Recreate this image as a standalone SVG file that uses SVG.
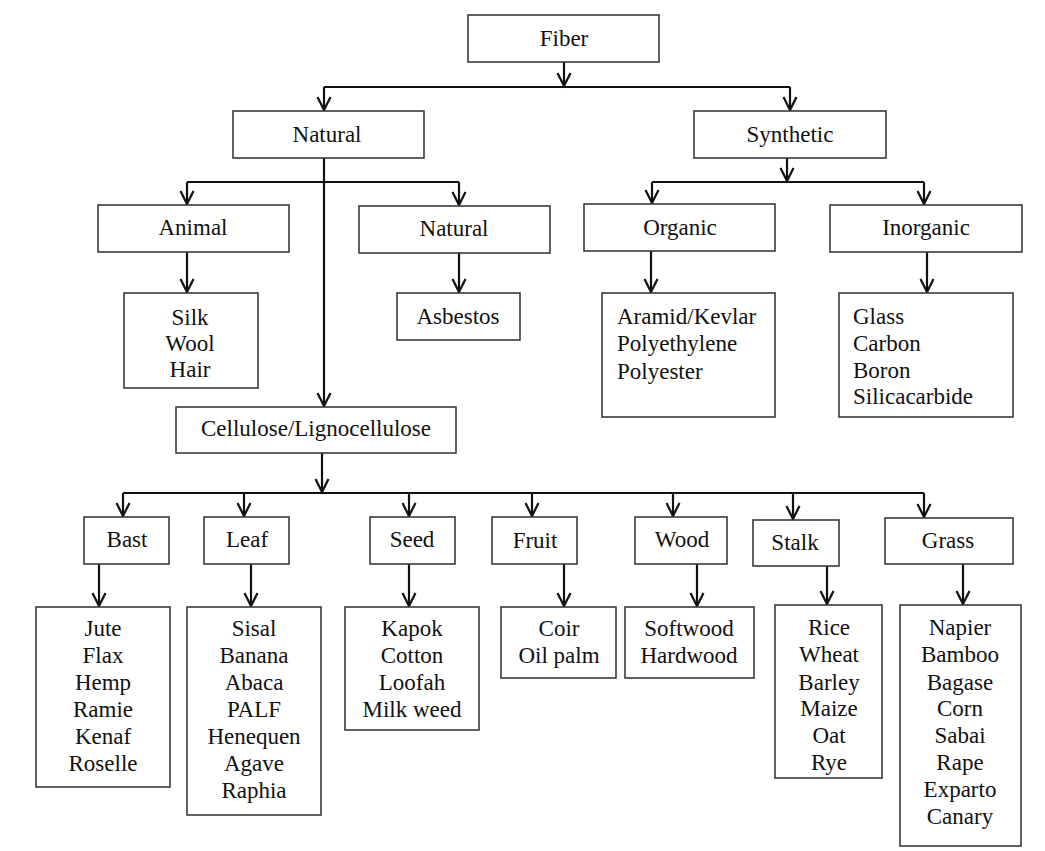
<svg xmlns="http://www.w3.org/2000/svg" width="1045" height="851" viewBox="0 0 1045 851">
  <style>
    .box { fill: #fff; stroke: #3a3a3a; stroke-width: 1.6; }
    .lbl { font-family: "Liberation Serif", "Times New Roman", serif; font-size: 23px; fill: #111; text-anchor: middle; }
    .lft { text-anchor: start; }
    .wire { fill: none; stroke: #111; stroke-width: 2.2; }
  </style>
  <defs>
    <!-- open chevron arrowhead, tip at the end of the line -->
    <marker id="tip" markerUnits="userSpaceOnUse" markerWidth="30" markerHeight="30" viewBox="-15 -15 30 30" refX="0" refY="0" orient="auto">
      <path d="M-13,-6.5 L0,0 L-13,6.5" fill="none" stroke="#111" stroke-width="2.2"/>
    </marker>
  </defs>
  <rect width="1045" height="851" fill="#fff"/>

  <!-- connectors -->
  <g id="connectors" class="wire">
    <path d="M564,62 V86" marker-end="url(#tip)"/>
    <path d="M324,87 H790"/>
    <path d="M324,87 V110" marker-end="url(#tip)"/>
    <path d="M790,87 V110" marker-end="url(#tip)"/>

    <path d="M324,158 V406" marker-end="url(#tip)"/>
    <path d="M187,182 H459"/>
    <path d="M187,182 V204" marker-end="url(#tip)"/>
    <path d="M459,182 V205" marker-end="url(#tip)"/>

    <path d="M787,158 V181" marker-end="url(#tip)"/>
    <path d="M652,182 H924"/>
    <path d="M652,182 V203" marker-end="url(#tip)"/>
    <path d="M924,182 V204" marker-end="url(#tip)"/>

    <path d="M187,252 V292" marker-end="url(#tip)"/>
    <path d="M459,253 V292" marker-end="url(#tip)"/>
    <path d="M651,251 V292" marker-end="url(#tip)"/>
    <path d="M927,252 V292" marker-end="url(#tip)"/>

    <path d="M322,453 V492" marker-end="url(#tip)"/>
    <path d="M123,493 H924"/>
    <path d="M123,493 V516" marker-end="url(#tip)"/>
    <path d="M244,493 V516" marker-end="url(#tip)"/>
    <path d="M409,493 V516" marker-end="url(#tip)"/>
    <path d="M532,493 V516" marker-end="url(#tip)"/>
    <path d="M673,493 V516" marker-end="url(#tip)"/>
    <path d="M793,493 V519" marker-end="url(#tip)"/>
    <path d="M924,493 V517" marker-end="url(#tip)"/>

    <path d="M99,564 V606" marker-end="url(#tip)"/>
    <path d="M251,564 V606" marker-end="url(#tip)"/>
    <path d="M409,564 V606" marker-end="url(#tip)"/>
    <path d="M564,564 V606" marker-end="url(#tip)"/>
    <path d="M697,564 V606" marker-end="url(#tip)"/>
    <path d="M827,562 V604" marker-end="url(#tip)"/>
    <path d="M963,564 V604" marker-end="url(#tip)"/>
  </g>

  <!-- top levels -->
  <g id="fiber"><rect class="box" x="468" y="15" width="191" height="47"/><text class="lbl" x="564" y="46">Fiber</text></g>
  <g id="natural"><rect class="box" x="233" y="111" width="191" height="47"/><text class="lbl" x="327" y="142">Natural</text></g>
  <g id="synthetic"><rect class="box" x="694" y="111" width="192" height="47"/><text class="lbl" x="790" y="142">Synthetic</text></g>

  <g id="animal"><rect class="box" x="98" y="205" width="191" height="47"/><text class="lbl" x="193" y="235">Animal</text></g>
  <g id="mineral"><rect class="box" x="359" y="206" width="191" height="47"/><text class="lbl" x="454" y="236">Natural</text></g>
  <g id="organic"><rect class="box" x="584" y="204" width="191" height="47"/><text class="lbl" x="680" y="235">Organic</text></g>
  <g id="inorganic"><rect class="box" x="830" y="205" width="192" height="47"/><text class="lbl" x="926" y="235">Inorganic</text></g>

  <g id="animal-list"><rect class="box" x="124" y="293" width="134" height="95"/>
    <text class="lbl" x="190" y="325">Silk</text><text class="lbl" x="190" y="351">Wool</text><text class="lbl" x="190" y="377">Hair</text></g>
  <g id="asbestos"><rect class="box" x="397" y="293" width="123" height="47"/><text class="lbl" x="458" y="324">Asbestos</text></g>
  <g id="organic-list"><rect class="box" x="602" y="293" width="173" height="124"/>
    <text class="lbl lft" x="617" y="324">Aramid/Kevlar</text><text class="lbl lft" x="617" y="351">Polyethylene</text><text class="lbl lft" x="617" y="379">Polyester</text></g>
  <g id="inorganic-list"><rect class="box" x="839" y="293" width="174" height="124"/>
    <text class="lbl lft" x="853" y="324">Glass</text><text class="lbl lft" x="853" y="351">Carbon</text><text class="lbl lft" x="853" y="378">Boron</text><text class="lbl lft" x="853" y="404">Silicacarbide</text></g>

  <g id="cellulose"><rect class="box" x="176" y="407" width="280" height="46"/><text class="lbl" x="316" y="436">Cellulose/Lignocellulose</text></g>

  <!-- plant fibre categories -->
  <g id="bast"><rect class="box" x="84" y="517" width="85" height="47"/><text class="lbl" x="127" y="547">Bast</text></g>
  <g id="leaf"><rect class="box" x="204" y="517" width="85" height="47"/><text class="lbl" x="247" y="547">Leaf</text></g>
  <g id="seed"><rect class="box" x="370" y="517" width="85" height="47"/><text class="lbl" x="412" y="547">Seed</text></g>
  <g id="fruit"><rect class="box" x="492" y="517" width="85" height="47"/><text class="lbl" x="535" y="548">Fruit</text></g>
  <g id="wood"><rect class="box" x="635" y="517" width="92" height="47"/><text class="lbl" x="682" y="547">Wood</text></g>
  <g id="stalk"><rect class="box" x="753" y="520" width="86" height="46"/><text class="lbl" x="795" y="550">Stalk</text></g>
  <g id="grass"><rect class="box" x="885" y="518" width="128" height="46"/><text class="lbl" x="948" y="548">Grass</text></g>

  <g id="bast-list"><rect class="box" x="36" y="607" width="134" height="180"/>
    <text class="lbl" x="103" y="636">Jute</text><text class="lbl" x="103" y="663">Flax</text><text class="lbl" x="103" y="690">Hemp</text>
    <text class="lbl" x="103" y="717">Ramie</text><text class="lbl" x="103" y="744">Kenaf</text><text class="lbl" x="103" y="771">Roselle</text></g>
  <g id="leaf-list"><rect class="box" x="187" y="607" width="134" height="208"/>
    <text class="lbl" x="254" y="636">Sisal</text><text class="lbl" x="254" y="663">Banana</text><text class="lbl" x="254" y="690">Abaca</text>
    <text class="lbl" x="254" y="717">PALF</text><text class="lbl" x="254" y="744">Henequen</text><text class="lbl" x="254" y="771">Agave</text><text class="lbl" x="254" y="798">Raphia</text></g>
  <g id="seed-list"><rect class="box" x="345" y="607" width="134" height="123"/>
    <text class="lbl" x="412" y="636">Kapok</text><text class="lbl" x="412" y="663">Cotton</text><text class="lbl" x="412" y="690">Loofah</text><text class="lbl" x="412" y="717">Milk weed</text></g>
  <g id="fruit-list"><rect class="box" x="501" y="607" width="115" height="71"/>
    <text class="lbl" x="559" y="636">Coir</text><text class="lbl" x="559" y="663">Oil palm</text></g>
  <g id="wood-list"><rect class="box" x="625" y="607" width="129" height="71"/>
    <text class="lbl" x="689" y="636">Softwood</text><text class="lbl" x="689" y="663">Hardwood</text></g>
  <g id="stalk-list"><rect class="box" x="775" y="605" width="107" height="173"/>
    <text class="lbl" x="829" y="635">Rice</text><text class="lbl" x="829" y="662">Wheat</text><text class="lbl" x="829" y="690">Barley</text>
    <text class="lbl" x="829" y="716">Maize</text><text class="lbl" x="829" y="743">Oat</text><text class="lbl" x="829" y="770">Rye</text></g>
  <g id="grass-list"><rect class="box" x="900" y="605" width="121" height="241"/>
    <text class="lbl" x="960" y="635">Napier</text><text class="lbl" x="960" y="662">Bamboo</text><text class="lbl" x="960" y="690">Bagase</text>
    <text class="lbl" x="960" y="716">Corn</text><text class="lbl" x="960" y="743">Sabai</text><text class="lbl" x="960" y="770">Rape</text>
    <text class="lbl" x="960" y="797">Exparto</text><text class="lbl" x="960" y="824">Canary</text></g>
</svg>
